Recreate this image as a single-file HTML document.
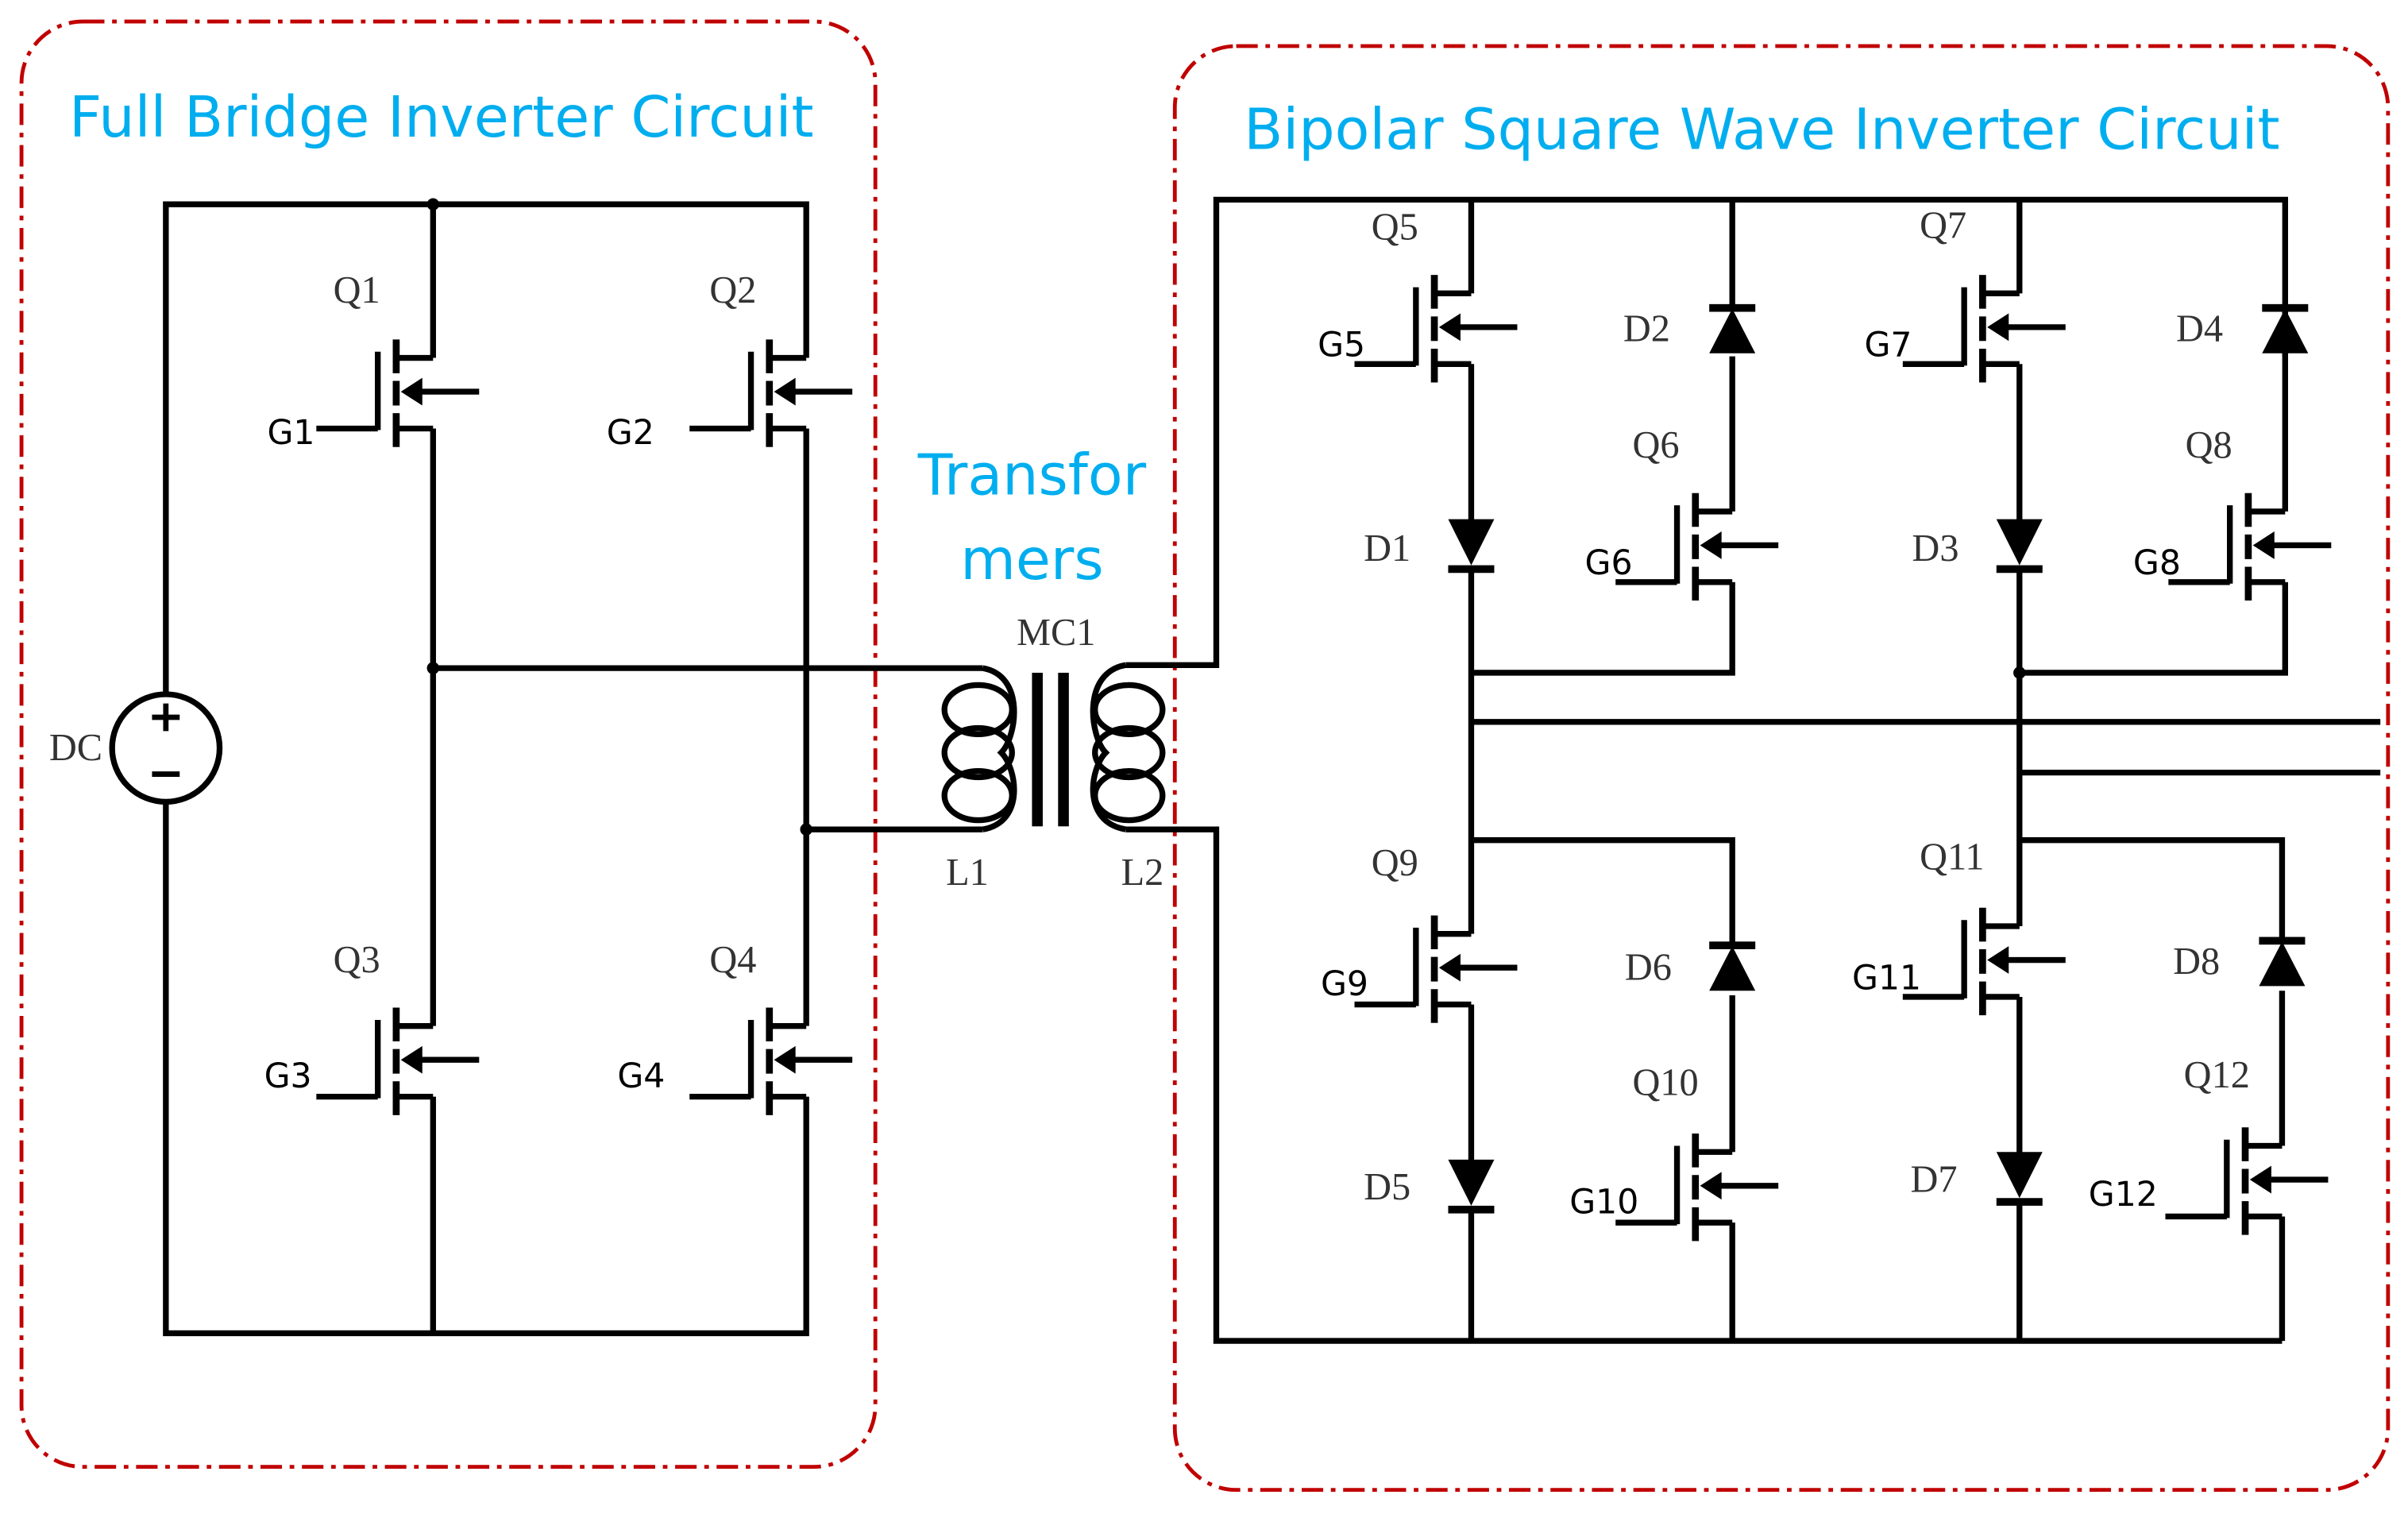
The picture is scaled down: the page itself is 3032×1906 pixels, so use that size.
<!DOCTYPE html>
<html><head><meta charset="utf-8"><style>
html,body{margin:0;padding:0;background:#fff}
svg{display:block}
.s{font-family:"Liberation Serif",serif;fill:#333;font-size:25px}
.g{font-family:"DejaVu Sans","Liberation Sans",sans-serif;fill:#000;font-size:22px}
.t{font-family:"DejaVu Sans","Liberation Sans",sans-serif;fill:#00aeef;font-size:37px}
</style></head><body>
<svg width="3032" height="1906" viewBox="0 0 1568 985.7" preserveAspectRatio="none" xmlns="http://www.w3.org/2000/svg">
<defs>
<g id="m" stroke="#000" stroke-width="3.8" fill="none">
<path d="M0,-22 H-24 M0,24 H-24"/>
<path d="M-24,-34 V-12 M-24,-7 V9 M-24,14 V36" stroke-width="4.5"/>
<path d="M-36,-26 V25 M-36,24 H-76"/>
<path d="M30,0 H-14"/>
<polygon points="-21,0 -7,-9 -7,9" fill="#000" stroke="none"/>
</g>
<g id="dd"><polygon points="-15,0 15,0 0,30" fill="#000"/><rect x="-15" y="30" width="30" height="5" fill="#000"/></g>
<g id="du"><rect x="-15" y="0" width="30" height="5" fill="#000"/><polygon points="-15,32 15,32 0,3" fill="#000"/></g>
</defs>
<rect x="14" y="14" width="556" height="941" rx="40" fill="none" stroke="#c00000" stroke-width="2.5" stroke-dasharray="14 5 3 5"/>
<rect x="765" y="30" width="790" height="940" rx="40" fill="none" stroke="#c00000" stroke-width="2.5" stroke-dasharray="14 5 3 5"/>
<text class="t" x="45" y="89">Full Bridge Inverter Circuit</text>
<text class="t" x="810" y="97">Bipolar Square Wave Inverter Circuit</text>
<text class="t" x="672" y="322" text-anchor="middle">Transfor</text>
<text class="t" x="672" y="377" text-anchor="middle">mers</text>

<g stroke="#000" stroke-width="3.8" fill="none">
<path d="M108,452 V133 H525 V233 M108,522 V868 H525 V714"/>
<path d="M282,133 V233 M282,279 V668 M282,714 V868 M525,279 V668"/>
<path d="M282,435 H640 M525,540 H640"/>
<path d="M640,435 C668,440 662,480 652,490 C662,500 668,535 640,540"/>
<ellipse cx="637" cy="462" rx="22" ry="16"/>
<ellipse cx="637" cy="490" rx="22" ry="16"/>
<ellipse cx="637" cy="518" rx="22" ry="16"/>
<path d="M733,433 C704,438 710,480 720,490 C710,500 704,535 733,540"/>
<ellipse cx="735" cy="462" rx="22" ry="16"/>
<ellipse cx="735" cy="490" rx="22" ry="16"/>
<ellipse cx="735" cy="518" rx="22" ry="16"/>
<path d="M733,433 H792 V130 H1488 V333 M733,540 H792 V873 H1486"/>
<path d="M958,130 V191 M958,237 V340 M958,370 V608 M958,654 V757 M958,787 V873"/>
<path d="M1128,130 V200 M1128,232 V333 M1128,379 V438 H958"/>
<path d="M958,547 H1128 V615 M1128,648 V750 M1128,796 V873"/>
<path d="M1315,130 V191 M1315,237 V340 M1315,370 V603 M1315,649 V752 M1315,782 V873"/>
<path d="M1315,438 H1488 V379 M1488,232 V200"/>
<path d="M958,470 H1550 M1315,503 H1550"/>
<path d="M1315,547 H1486 V612 M1486,645 V746 M1486,792 V873"/>
</g>
<rect x="672" y="438" width="7" height="100" fill="#000"/>
<rect x="689" y="438" width="7" height="100" fill="#000"/>
<circle cx="282" cy="133" r="4" fill="#000"/>
<circle cx="282" cy="435" r="4" fill="#000"/>
<circle cx="525" cy="540" r="4" fill="#000"/>
<circle cx="1315" cy="438" r="4" fill="#000"/>
<circle cx="108" cy="487" r="35" fill="#fff" stroke="#000" stroke-width="3.8"/>
<path d="M99,467 H117 M108,458 V476 M99,504 H117" stroke="#000" stroke-width="3.5"/>

<use href="#m" transform="translate(282,255)"/>
<use href="#m" transform="translate(525,255)"/>
<use href="#m" transform="translate(282,690)"/>
<use href="#m" transform="translate(525,690)"/>
<use href="#m" transform="translate(958,213)"/>
<use href="#m" transform="translate(1315,213)"/>
<use href="#m" transform="translate(1128,355)"/>
<use href="#m" transform="translate(1488,355)"/>
<use href="#m" transform="translate(958,630)"/>
<use href="#m" transform="translate(1315,625)"/>
<use href="#m" transform="translate(1128,772)"/>
<use href="#m" transform="translate(1486,768)"/>

<use href="#dd" transform="translate(958,338)"/>
<use href="#dd" transform="translate(1315,338)"/>
<use href="#dd" transform="translate(958,755)"/>
<use href="#dd" transform="translate(1315,750)"/>
<use href="#du" transform="translate(1128,198)"/>
<use href="#du" transform="translate(1488,198)"/>
<use href="#du" transform="translate(1128,613)"/>
<use href="#du" transform="translate(1486,610)"/>

<text class="s" x="217" y="197">Q1</text><text class="g" x="174" y="289">G1</text>
<text class="s" x="462" y="197">Q2</text><text class="g" x="395" y="289">G2</text>
<text class="s" x="217" y="633">Q3</text><text class="g" x="172" y="708">G3</text>
<text class="s" x="462" y="633">Q4</text><text class="g" x="402" y="708">G4</text>
<text class="s" x="32" y="495">DC</text>
<text class="s" x="662" y="420">MC1</text>
<text class="s" x="616" y="576">L1</text>
<text class="s" x="730" y="576">L2</text>
<text class="s" x="893" y="156">Q5</text><text class="g" x="858" y="232">G5</text>
<text class="s" x="1057" y="222">D2</text>
<text class="s" x="1250" y="155">Q7</text><text class="g" x="1214" y="232">G7</text>
<text class="s" x="1417" y="222">D4</text>
<text class="s" x="1063" y="298">Q6</text><text class="g" x="1032" y="374">G6</text>
<text class="s" x="1423" y="298">Q8</text><text class="g" x="1389" y="374">G8</text>
<text class="s" x="888" y="365">D1</text>
<text class="s" x="1245" y="365">D3</text>
<text class="s" x="893" y="570">Q9</text><text class="g" x="860" y="648">G9</text>
<text class="s" x="1058" y="638">D6</text>
<text class="s" x="1250" y="566">Q11</text><text class="g" x="1206" y="644">G11</text>
<text class="s" x="1415" y="634">D8</text>
<text class="s" x="1063" y="713">Q10</text><text class="g" x="1022" y="790">G10</text>
<text class="s" x="1422" y="708">Q12</text><text class="g" x="1360" y="785">G12</text>
<text class="s" x="888" y="781">D5</text>
<text class="s" x="1244" y="776">D7</text>
</svg>
</body></html>
